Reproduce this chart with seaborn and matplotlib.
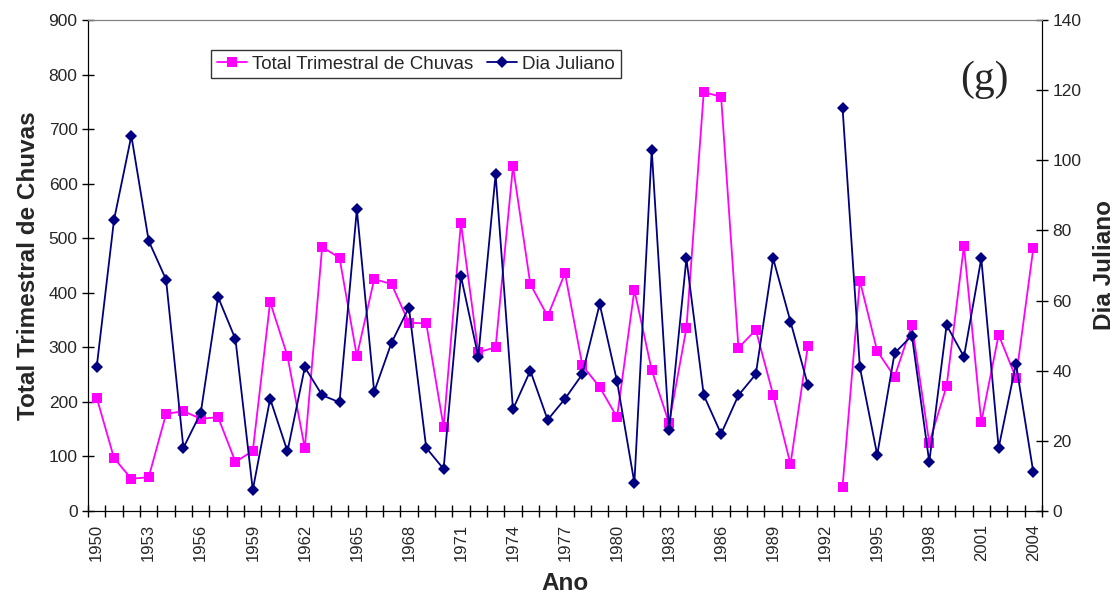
import numpy as np
import pandas as pd
import matplotlib
matplotlib.use("Agg")
import matplotlib.pyplot as plt
import seaborn as sns
from matplotlib.lines import Line2D

anos = list(range(1950, 2005))

# total trimestral de chuvas (mm) - 1992 sem dado
chuva = [208, 97, 59, 62, 178, 183, 169, 172, 90, 110,
         383, 284, 115, 484, 464, 284, 425, 416, 345, 344,
         154, 528, 291, 300, 632, 416, 357, 436, 267, 227,
         172, 405, 258, 161, 335, 768, 759, 299, 332, 213,
         86, 302, np.nan, 44, 422, 293, 246, 341, 125, 229,
         486, 163, 323, 244, 482]

# dia juliano - 1992 sem dado
dia = [41, 83, 107, 77, 66, 18, 28, 61, 49, 6,
       32, 17, 41, 33, 31, 86, 34, 48, 58, 18,
       12, 67, 44, 96, 29, 40, 26, 32, 39, 59,
       37, 8, 103, 23, 72, 33, 22, 33, 39, 72,
       54, 36, np.nan, 115, 41, 16, 45, 50, 14, 53,
       44, 72, 18, 42, 11]

df = pd.DataFrame({"ano": anos, "chuva": chuva, "dia": dia})
df["seg"] = (df["ano"] > 1992).astype(int)  # quebra a linha no ano sem dado

cor_chuva = "#FF00FF"
cor_dia = "#000080"

sns.set_style("white")
plt.rcParams["font.family"] = ["Liberation Sans", "DejaVu Sans"]

fig = plt.figure(figsize=(11.17, 5.97), dpi=100)
ax = fig.add_axes([88 / 1117, 86 / 597, 954 / 1117, 491 / 597])
ax2 = ax.twinx()

sns.lineplot(data=df.dropna(subset=["chuva"]), x="ano", y="chuva", units="seg", estimator=None,
             color=cor_chuva, marker="s", markersize=7, markeredgewidth=0, linewidth=1.3,
             ax=ax, legend=False)
sns.lineplot(data=df.dropna(subset=["dia"]), x="ano", y="dia", units="seg", estimator=None,
             color=cor_dia, marker="D", markersize=6.3, markeredgewidth=0, linewidth=1.3,
             ax=ax2, legend=False)

ax.set_xlim(1949.5, 2004.5)
ax.set_ylim(0, 900)
ax2.set_ylim(0, 140)
ax.set_yticks(np.arange(0, 901, 100))
ax2.set_yticks(np.arange(0, 141, 20))

ax.set_xticks(anos[::3])
ax.set_xticklabels([str(a) for a in anos[::3]], rotation=90)
ax.set_xticks(np.arange(1949.5, 2005, 1), minor=True)
ax.tick_params(axis="x", which="major", length=0, labelsize=12, pad=9)
ax.tick_params(axis="x", which="minor", direction="inout", length=8, width=1, color="black", bottom=True)
ax.tick_params(axis="y", direction="inout", length=8, width=1, color="black", left=True, labelsize=12.5)
ax2.tick_params(axis="y", direction="inout", length=8, width=1, color="black", right=True, labelsize=12.5)

for a in (ax, ax2):
    a.spines["top"].set_color("#808080")
    a.spines["left"].set_color("black")
    a.spines["bottom"].set_color("black")
    a.spines["right"].set_color("black")
    a.grid(False)

ax.set_xlabel("Ano", fontsize=17.5, fontweight="bold", labelpad=8)
ax.set_ylabel("Total Trimestral de Chuvas", fontsize=17.5, fontweight="bold", labelpad=6)
ax2.set_ylabel("Dia Juliano", fontsize=17.5, fontweight="bold", labelpad=8)

ax2.text(0.94, 0.878, "(g)", transform=ax.transAxes, fontsize=30,
         family=["Liberation Serif", "DejaVu Serif"], ha="center", va="center")

handles = [
    Line2D([], [], color=cor_chuva, marker="s", markersize=7, markeredgewidth=0, linewidth=1.3),
    Line2D([], [], color=cor_dia, marker="D", markersize=6.3, markeredgewidth=0, linewidth=1.3),
]
leg = ax2.legend(handles, ["Total Trimestral de Chuvas", "Dia Juliano"], ncol=2,
                 loc="upper left", bbox_to_anchor=(211 / 1117, 1 - 50 / 597),
                 bbox_transform=fig.transFigure, fontsize=13.5, frameon=True, fancybox=False,
                 edgecolor="black", handlelength=1.6, handletextpad=0.3, columnspacing=0.7,
                 borderpad=0.3, borderaxespad=0)
leg.get_frame().set_linewidth(1)

fig.savefig("out.png", dpi=100)
